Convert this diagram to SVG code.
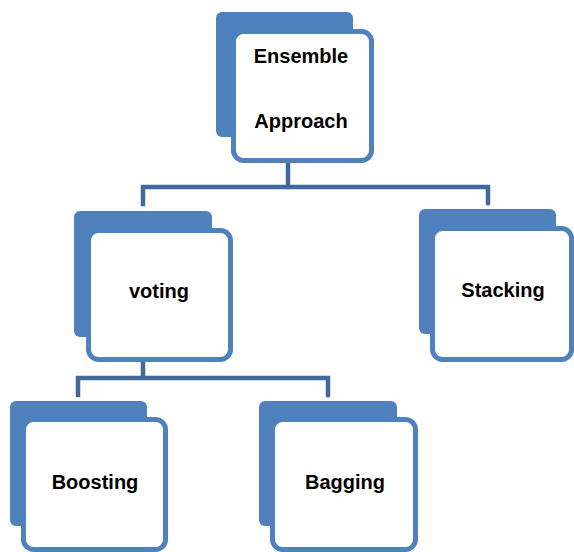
<svg xmlns="http://www.w3.org/2000/svg" width="574" height="552" viewBox="0 0 574 552">
<style>
.back{fill:#4F81BD;}
.front{fill:#FFFFFF;stroke:#4F81BD;stroke-width:5;}
.conn{fill:none;stroke:#41699C;stroke-width:4.5;stroke-linecap:square;}
.lbl{font-family:"Liberation Sans",Arial,sans-serif;font-weight:bold;font-size:20px;fill:#000;text-anchor:middle;}
</style>
<rect width="574" height="552" fill="#FFFFFF"/>
<g id="connectors">
<path class="conn" d="M288 163 V186 M143 204 V187 H488 V203"/>
<path class="conn" d="M143 362 V378 M78 395 V378 H328 V395"/>
</g>
<g id="ensemble">
<rect class="back" x="216" y="12" width="137" height="125" rx="6"/>
<rect class="front" x="233.5" y="31.5" width="138" height="129" rx="10"/>
<text class="lbl" x="301" y="63">Ensemble</text>
<text class="lbl" x="301" y="128">Approach</text>
</g>
<g id="voting">
<rect class="back" x="74" y="211" width="138" height="126" rx="6"/>
<rect class="front" x="88.5" y="230.5" width="142" height="129" rx="10"/>
<text class="lbl" x="159" y="298">voting</text>
</g>
<g id="stacking">
<rect class="back" x="419" y="209" width="137" height="125" rx="6"/>
<rect class="front" x="432.5" y="228.5" width="139" height="131" rx="10"/>
<text class="lbl" x="503" y="297">Stacking</text>
</g>
<g id="boosting">
<rect class="back" x="10" y="401" width="137" height="125" rx="6"/>
<rect class="front" x="23.5" y="419.5" width="142" height="130" rx="10"/>
<text class="lbl" x="95" y="489">Boosting</text>
</g>
<g id="bagging">
<rect class="back" x="259" y="401" width="138" height="125" rx="6"/>
<rect class="front" x="272.5" y="419.5" width="143" height="130" rx="10"/>
<text class="lbl" x="345" y="489">Bagging</text>
</g>
</svg>
